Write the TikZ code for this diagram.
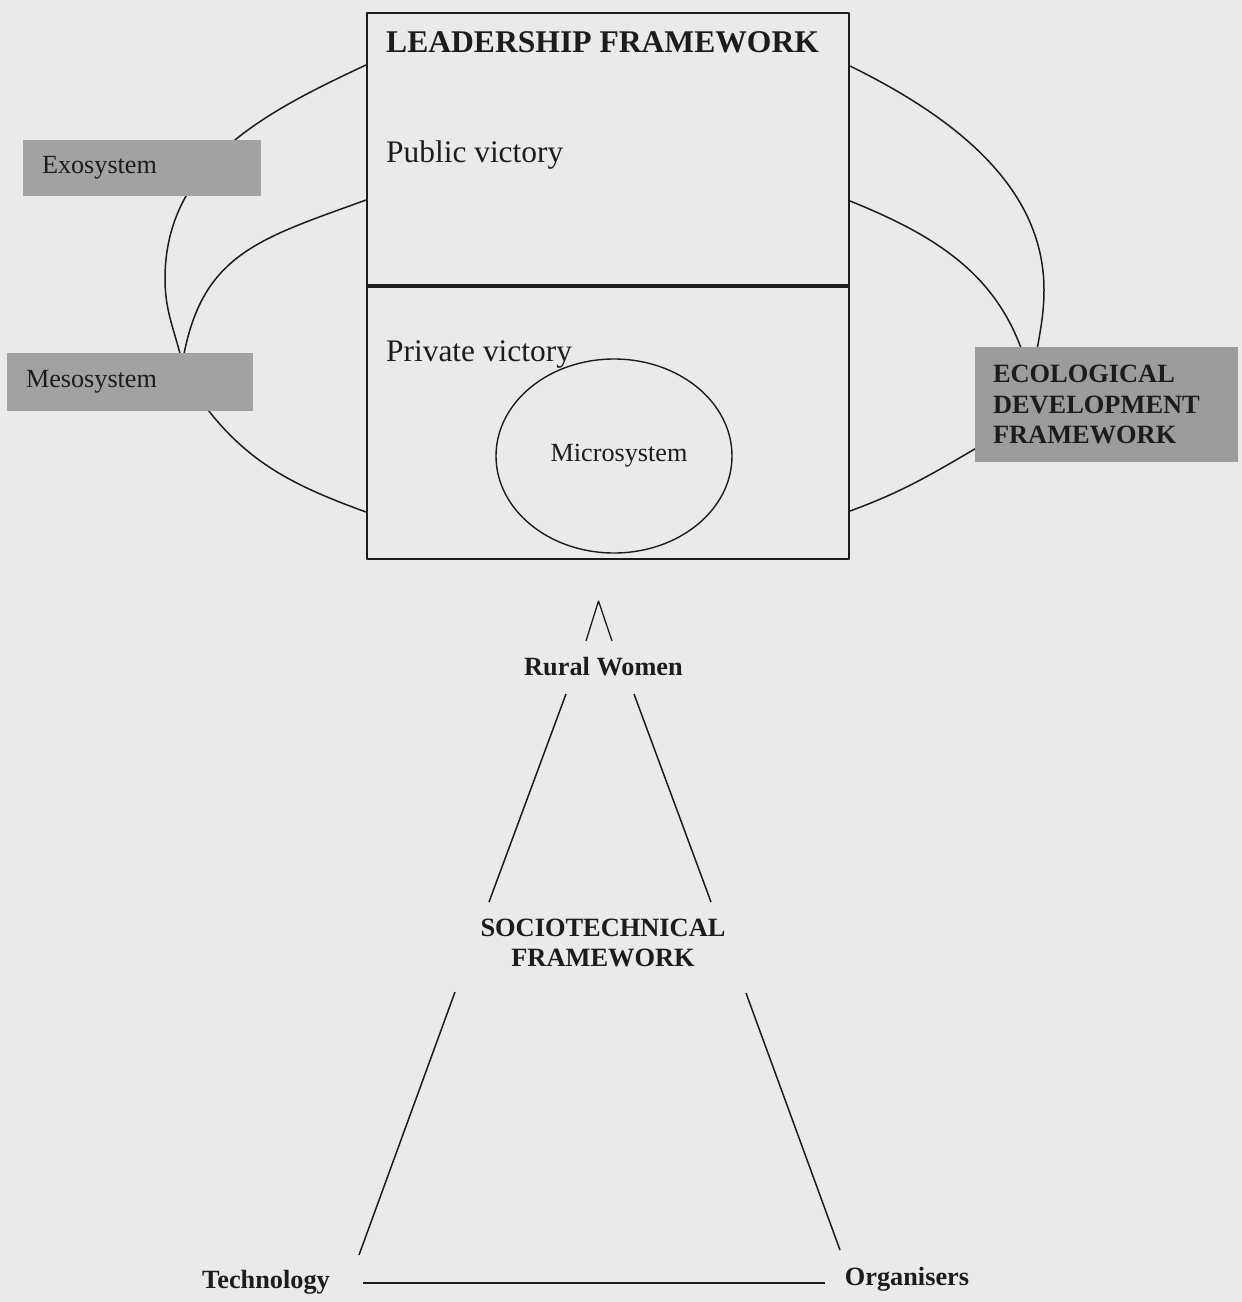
\documentclass[tikz,border=0pt]{standalone}
\usepackage{fontspec}
\setmainfont{Liberation Serif}
\usetikzlibrary{shapes.geometric,backgrounds}
\definecolor{bg}{HTML}{EAEAEA}
\definecolor{boxgray}{HTML}{A2A2A2}
\definecolor{ecogray}{HTML}{9C9C9C}
\definecolor{ink}{HTML}{1C1C1C}
\begin{document}
\begin{tikzpicture}[x=1pt,y=1pt,line join=round,
  framebox/.style={draw=ink,line width=2pt,fill=bg,inner sep=0,anchor=north west,minimum width=482pt},
  sidebox/.style={fill=boxgray,draw=none,inner sep=0,text=ink,align=left,font=\fontsize{26.2}{30}\selectfont},
  ecobox/.style={fill=ecogray,draw=none,inner sep=0,text=ink,align=left,font=\fontsize{26.4}{30.5}\selectfont\bfseries},
  curve/.style={draw=ink,line width=1.5pt},
  tline/.style={draw=ink,line width=1.5pt},
  lbl/.style={inner sep=0,text=ink},
  bigreg/.style={font=\fontsize{31.4}{36}\selectfont},
  bigbold/.style={font=\fontsize{31.6}{36}\selectfont\bfseries},
  medreg/.style={font=\fontsize{26.2}{30}\selectfont},
  medbold/.style={font=\fontsize{26.3}{30}\selectfont\bfseries},
]
% --- big framework box
\node[framebox,minimum height=272pt] (lead) at (366,-12) {};
\node[framebox,minimum height=274pt] (priv) at (366,-284) {};
\draw[ink,line width=3pt] (lead.south west) -- (lead.south east);
\node[lbl,bigbold,anchor=base west] (leadt) at (386,-52) {LEADERSHIP FRAMEWORK};
\node[lbl,bigreg,anchor=base west] (pub) at (386,-162.5) {Public victory};
\node[lbl,bigreg,anchor=base west] (pri) at (386,-361.4) {Private victory};
\node[draw=ink,line width=1.4pt,ellipse,minimum width=236pt,minimum height=194pt,inner sep=0,text=ink,medreg] (micro) at (614,-456) {\hspace{10pt}Microsystem};

% --- side boxes
\node[sidebox,minimum width=238pt,minimum height=56pt,text width=200pt] (exo) at (142,-168) {Exosystem};
\node[sidebox,minimum width=246pt,minimum height=58pt,text width=208pt] (meso) at (130,-381.6) {Mesosystem};
\node[ecobox,minimum width=263pt,minimum height=115pt,text width=227pt] (eco) at (1106.5,-404.5) {ECOLOGICAL\\DEVELOPMENT\\FRAMEWORK};

% --- ecological curves (behind boxes)
\begin{pgfonlayer}{background}
\fill[bg] (0,0) rectangle (1242,-1302);
\coordinate (lw) at (165,-279);
\coordinate (rw) at (1044,-290);
\draw[curve] ([yshift=-53pt]lead.north west) to[out=205,in=90] (lw) to[out=-90,in=100] (184,-372);
\draw[curve] ([yshift=-188pt]lead.north west) to[out=200,in=82,looseness=1.2] (181,-372);
\draw[curve] (197,-395) to[out=-55,in=160] ([yshift=-228pt]priv.north west);
\draw[curve] ([yshift=-54pt]lead.north east) .. controls (960,-120) and (1044,-190) .. (rw)
   .. controls (1044,-320) and (1038,-340) .. (1032,-380);
\draw[curve] ([yshift=-189pt]lead.north east) to[out=-22,in=105] (1028,-370);
\draw[curve] (992,-439) to[out=210,in=20] ([yshift=-227pt]priv.north east);
\end{pgfonlayer}

% --- sociotechnical triangle
\node[lbl,medbold,anchor=base] (rural) at (603.5,-675) {Rural Women};
\node[lbl,medbold,anchor=north,align=center,font=\fontsize{26.4}{30}\selectfont\bfseries] (socio) at (603,-919) {SOCIOTECHNICAL\\FRAMEWORK};
\node[lbl,medbold,anchor=base] (tech) at (266,-1288) {Technology};
\node[lbl,medbold,anchor=base] (org) at (907,-1285) {Organisers};

\coordinate (apex) at (598.5,-601);
\coordinate (a1) at (586,-641);
\coordinate (a2) at (612,-641);
\draw[tline,line width=1.3pt] (a1) -- (apex) -- (a2);

\coordinate (l1) at (566,-694);
\coordinate (l2) at (489,-902);
\coordinate (r1) at (634,-694);
\coordinate (r2) at (711,-902);
\draw[tline] (l1) -- (l2);
\draw[tline] (r1) -- (r2);

\coordinate (m1) at (455,-992);
\coordinate (m2) at (359,-1255);
\coordinate (n1) at (746,-993);
\coordinate (n2) at (840,-1250);
\draw[tline] (m1) -- (m2);
\draw[tline] (n1) -- (n2);

\coordinate (b1) at (363,-1283);
\coordinate (b2) at (825,-1283);
\draw[ink,line width=2.4pt] (b1) -- (b2);

\useasboundingbox (0,0) rectangle (1242,-1302);
\end{tikzpicture}
\end{document}
